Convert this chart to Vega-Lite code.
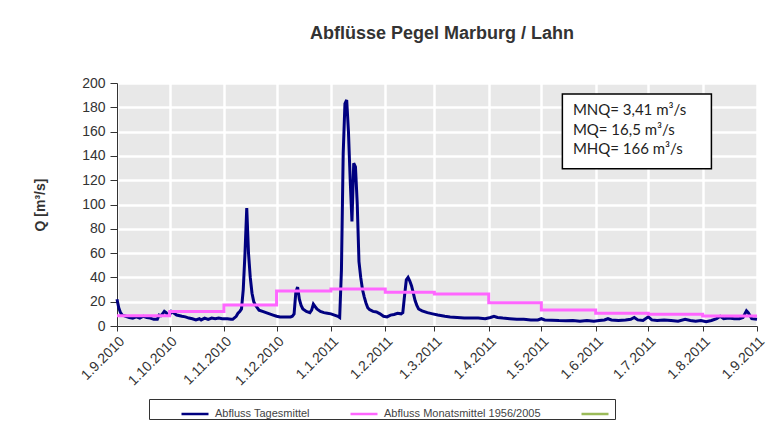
{
  "$schema": "https://vega.github.io/schema/vega-lite/v6.json",
  "autosize": "none",
  "width": 640,
  "height": 243,
  "padding": {"left": 117, "top": 83, "right": 25, "bottom": 117},
  "background": "white",
  "title": {"text": "Abflüsse Pegel Marburg / Lahn", "fontSize": 18, "fontWeight": "bold", "font": "Liberation Sans", "color": "#333333", "anchor": "middle", "offset": 33, "dx": 5},
  "config": {
    "view": {"fill": "#e8e8e8", "stroke": null},
    "axis": {"labelFont": "Liberation Sans", "titleFont": "Liberation Sans", "labelColor": "#333333", "titleColor": "#333333", "domainColor": "#333333", "tickColor": "#333333", "gridColor": "#ffffff", "gridWidth": 2.5, "gridOpacity": 1}
  },
  "datasets": {
    "daily": [
      {"date": "2010-09-01", "Q": 22}, {"date": "2010-09-02", "Q": 15}, {"date": "2010-09-03", "Q": 11}, {"date": "2010-09-04", "Q": 9},
      {"date": "2010-09-06", "Q": 8}, {"date": "2010-09-08", "Q": 7}, {"date": "2010-09-10", "Q": 6.5}, {"date": "2010-09-12", "Q": 7.5},
      {"date": "2010-09-14", "Q": 6.5}, {"date": "2010-09-16", "Q": 8}, {"date": "2010-09-18", "Q": 7}, {"date": "2010-09-20", "Q": 6.5},
      {"date": "2010-09-22", "Q": 5.5}, {"date": "2010-09-24", "Q": 5.5}, {"date": "2010-09-25", "Q": 9}, {"date": "2010-09-26", "Q": 8.5},
      {"date": "2010-09-27", "Q": 10}, {"date": "2010-09-28", "Q": 12}, {"date": "2010-09-29", "Q": 11}, {"date": "2010-09-30", "Q": 9},
      {"date": "2010-10-01", "Q": 9}, {"date": "2010-10-02", "Q": 12}, {"date": "2010-10-03", "Q": 11}, {"date": "2010-10-05", "Q": 9},
      {"date": "2010-10-08", "Q": 8}, {"date": "2010-10-10", "Q": 7.5}, {"date": "2010-10-12", "Q": 6.5}, {"date": "2010-10-14", "Q": 6},
      {"date": "2010-10-16", "Q": 5}, {"date": "2010-10-18", "Q": 6}, {"date": "2010-10-19", "Q": 5}, {"date": "2010-10-21", "Q": 6.5},
      {"date": "2010-10-23", "Q": 5.5}, {"date": "2010-10-25", "Q": 6.5}, {"date": "2010-10-27", "Q": 6}, {"date": "2010-10-29", "Q": 6.5},
      {"date": "2010-10-31", "Q": 6}, {"date": "2010-11-03", "Q": 6}, {"date": "2010-11-05", "Q": 5.5}, {"date": "2010-11-06", "Q": 5.5},
      {"date": "2010-11-08", "Q": 8}, {"date": "2010-11-09", "Q": 10.5}, {"date": "2010-11-10", "Q": 12}, {"date": "2010-11-11", "Q": 14},
      {"date": "2010-11-12", "Q": 30}, {"date": "2010-11-13", "Q": 60}, {"date": "2010-11-14", "Q": 97}, {"date": "2010-11-15", "Q": 60},
      {"date": "2010-11-16", "Q": 40}, {"date": "2010-11-17", "Q": 27}, {"date": "2010-11-18", "Q": 20}, {"date": "2010-11-19", "Q": 17},
      {"date": "2010-11-21", "Q": 13}, {"date": "2010-11-23", "Q": 12}, {"date": "2010-11-25", "Q": 11}, {"date": "2010-11-27", "Q": 10},
      {"date": "2010-11-29", "Q": 9}, {"date": "2010-12-01", "Q": 8}, {"date": "2010-12-03", "Q": 7.5}, {"date": "2010-12-06", "Q": 7.5},
      {"date": "2010-12-09", "Q": 7.5}, {"date": "2010-12-10", "Q": 8}, {"date": "2010-12-11", "Q": 10}, {"date": "2010-12-12", "Q": 28},
      {"date": "2010-12-13", "Q": 32}, {"date": "2010-12-14", "Q": 22}, {"date": "2010-12-15", "Q": 17}, {"date": "2010-12-16", "Q": 14},
      {"date": "2010-12-18", "Q": 12}, {"date": "2010-12-20", "Q": 11}, {"date": "2010-12-21", "Q": 13}, {"date": "2010-12-22", "Q": 18},
      {"date": "2010-12-23", "Q": 16}, {"date": "2010-12-24", "Q": 14}, {"date": "2010-12-26", "Q": 12}, {"date": "2010-12-28", "Q": 11},
      {"date": "2010-12-30", "Q": 10.5}, {"date": "2011-01-01", "Q": 10}, {"date": "2011-01-03", "Q": 9}, {"date": "2011-01-05", "Q": 8},
      {"date": "2011-01-06", "Q": 7}, {"date": "2011-01-07", "Q": 46}, {"date": "2011-01-08", "Q": 142}, {"date": "2011-01-09", "Q": 183},
      {"date": "2011-01-10", "Q": 186}, {"date": "2011-01-11", "Q": 160}, {"date": "2011-01-12", "Q": 120}, {"date": "2011-01-13", "Q": 86},
      {"date": "2011-01-14", "Q": 134}, {"date": "2011-01-15", "Q": 131}, {"date": "2011-01-16", "Q": 101}, {"date": "2011-01-17", "Q": 53},
      {"date": "2011-01-18", "Q": 40}, {"date": "2011-01-19", "Q": 30}, {"date": "2011-01-20", "Q": 24}, {"date": "2011-01-21", "Q": 19},
      {"date": "2011-01-22", "Q": 15}, {"date": "2011-01-23", "Q": 13.5}, {"date": "2011-01-25", "Q": 12}, {"date": "2011-01-27", "Q": 11.5},
      {"date": "2011-01-29", "Q": 10}, {"date": "2011-01-31", "Q": 8}, {"date": "2011-02-02", "Q": 7.5}, {"date": "2011-02-04", "Q": 9},
      {"date": "2011-02-06", "Q": 9.5}, {"date": "2011-02-08", "Q": 10.5}, {"date": "2011-02-10", "Q": 10}, {"date": "2011-02-11", "Q": 11},
      {"date": "2011-02-12", "Q": 25}, {"date": "2011-02-13", "Q": 38}, {"date": "2011-02-14", "Q": 40}, {"date": "2011-02-15", "Q": 37},
      {"date": "2011-02-16", "Q": 33}, {"date": "2011-02-17", "Q": 27}, {"date": "2011-02-18", "Q": 21}, {"date": "2011-02-19", "Q": 17},
      {"date": "2011-02-20", "Q": 14}, {"date": "2011-02-22", "Q": 12.5}, {"date": "2011-02-25", "Q": 11}, {"date": "2011-02-28", "Q": 10},
      {"date": "2011-03-03", "Q": 9}, {"date": "2011-03-07", "Q": 8}, {"date": "2011-03-10", "Q": 7.5}, {"date": "2011-03-14", "Q": 7},
      {"date": "2011-03-18", "Q": 6.5}, {"date": "2011-03-22", "Q": 6.5}, {"date": "2011-03-26", "Q": 6.5}, {"date": "2011-03-30", "Q": 6},
      {"date": "2011-04-02", "Q": 7}, {"date": "2011-04-04", "Q": 8}, {"date": "2011-04-06", "Q": 7}, {"date": "2011-04-09", "Q": 6.5},
      {"date": "2011-04-13", "Q": 6}, {"date": "2011-04-17", "Q": 5.5}, {"date": "2011-04-21", "Q": 5.5}, {"date": "2011-04-25", "Q": 5},
      {"date": "2011-04-29", "Q": 5}, {"date": "2011-05-01", "Q": 6}, {"date": "2011-05-03", "Q": 5}, {"date": "2011-05-07", "Q": 4.8},
      {"date": "2011-05-11", "Q": 4.5}, {"date": "2011-05-15", "Q": 4.4}, {"date": "2011-05-19", "Q": 4.5}, {"date": "2011-05-23", "Q": 4},
      {"date": "2011-05-27", "Q": 4.5}, {"date": "2011-05-31", "Q": 4}, {"date": "2011-06-03", "Q": 4.5}, {"date": "2011-06-06", "Q": 5},
      {"date": "2011-06-08", "Q": 6}, {"date": "2011-06-10", "Q": 5}, {"date": "2011-06-14", "Q": 4.5}, {"date": "2011-06-18", "Q": 5},
      {"date": "2011-06-21", "Q": 5.5}, {"date": "2011-06-23", "Q": 7}, {"date": "2011-06-25", "Q": 5}, {"date": "2011-06-28", "Q": 4.5},
      {"date": "2011-07-01", "Q": 7.5}, {"date": "2011-07-03", "Q": 5}, {"date": "2011-07-06", "Q": 4.5}, {"date": "2011-07-10", "Q": 5},
      {"date": "2011-07-14", "Q": 4.5}, {"date": "2011-07-18", "Q": 4}, {"date": "2011-07-22", "Q": 5.5}, {"date": "2011-07-25", "Q": 4.5},
      {"date": "2011-07-28", "Q": 4}, {"date": "2011-07-31", "Q": 4.5}, {"date": "2011-08-03", "Q": 3.6}, {"date": "2011-08-06", "Q": 4.5},
      {"date": "2011-08-09", "Q": 6}, {"date": "2011-08-11", "Q": 8}, {"date": "2011-08-13", "Q": 6}, {"date": "2011-08-16", "Q": 6.5},
      {"date": "2011-08-19", "Q": 6}, {"date": "2011-08-22", "Q": 6}, {"date": "2011-08-24", "Q": 7}, {"date": "2011-08-26", "Q": 12.5},
      {"date": "2011-08-27", "Q": 11}, {"date": "2011-08-29", "Q": 6}, {"date": "2011-09-01", "Q": 5.5}
    ],
    "monthly": [
      {"date": "2010-09-01", "Q": 8.5}, {"date": "2010-10-01", "Q": 12}, {"date": "2010-11-01", "Q": 17.3}, {"date": "2010-12-01", "Q": 28.8},
      {"date": "2011-01-01", "Q": 30.5}, {"date": "2011-02-01", "Q": 27.7}, {"date": "2011-03-01", "Q": 26.4}, {"date": "2011-04-01", "Q": 19.2},
      {"date": "2011-05-01", "Q": 13.2}, {"date": "2011-06-01", "Q": 10.5}, {"date": "2011-07-01", "Q": 9.6}, {"date": "2011-08-01", "Q": 8.2},
      {"date": "2011-09-01", "Q": 8.2}
    ],
    "box": [
      {"date": "2011-05-13", "date2": "2011-08-06", "Q": 191, "Q2": 129.5}
    ],
    "notes": [
      {"date": "2011-05-19", "Q": 177.5, "label": "MNQ= 3,41 m³/s"},
      {"date": "2011-05-19", "Q": 161.5, "label": "MQ= 16,5 m³/s"},
      {"date": "2011-05-19", "Q": 146, "label": "MHQ= 166 m³/s"}
    ]
  },
  "encoding": {
    "x": {
      "field": "date", "type": "temporal",
      "scale": {"type": "utc", "domain": [{"year": 2010, "month": 9, "date": 1, "utc": true}, {"year": 2011, "month": 9, "date": 1, "utc": true}]},
      "axis": {"title": null, "format": "%-d.%-m.%Y", "tickCount": {"interval": "month", "step": 1}, "labelAngle": -45, "labelAlign": "right", "labelBaseline": "top", "labelFontSize": 14, "labelPadding": 3, "tickSize": 5, "labelOverlap": false, "labelBound": false, "labelFlush": false, "grid": true}
    },
    "y": {
      "field": "Q", "type": "quantitative",
      "scale": {"domain": [0, 200], "nice": false},
      "axis": {"title": "Q [m³/s]", "values": [0, 20, 40, 60, 80, 100, 120, 140, 160, 180, 200], "labelOverlap": false, "labelBound": false, "labelFlush": false, "labelFontSize": 14, "labelPadding": 5, "tickSize": 7, "titleFontSize": 14, "titleFontWeight": "bold", "titleAngle": 270, "titleX": -70, "titleY": 121.5, "titleAlign": "center", "titleBaseline": "bottom", "grid": true}
    }
  },
  "layer": [
    {
      "data": {"name": "daily"},
      "mark": {"type": "line", "strokeWidth": 3, "interpolate": "linear"},
      "encoding": {
        "color": {
          "datum": "Abfluss Tagesmittel", "type": "nominal",
          "scale": {"domain": ["Abfluss Tagesmittel", "Abfluss Monatsmittel 1956/2005", "\u2003\u2003"], "range": ["#000080", "#ff66ff", "#9bbb59"]},
          "legend": {"orient": "none", "legendX": 32, "legendY": 316, "direction": "horizontal", "title": " ", "titleOrient": "left", "titlePadding": 31, "padding": 0, "strokeColor": "#333333", "fillColor": "#ffffff", "symbolType": "stroke", "symbolSize": 729, "symbolStrokeWidth": 2.5, "labelFontSize": 11, "labelFont": "Liberation Sans", "labelColor": "#444444", "labelOffset": 5, "columnPadding": 35, "labelLimit": 300}
        }
      }
    },
    {
      "data": {"name": "monthly"},
      "mark": {"type": "line", "strokeWidth": 3, "interpolate": "step-after"},
      "encoding": {
        "color": {"datum": "Abfluss Monatsmittel 1956/2005", "type": "nominal"}
      }
    },
    {
      "data": {"name": "box"},
      "mark": {"type": "rect", "fill": "#ffffff", "stroke": "#000000", "strokeWidth": 1.5},
      "encoding": {
        "x2": {"field": "date2"},
        "y2": {"field": "Q2"}
      }
    },
    {
      "data": {"name": "notes"},
      "mark": {"type": "text", "align": "left", "baseline": "middle", "font": "Lato", "fontSize": 15, "color": "#222222"},
      "encoding": {
        "text": {"field": "label"}
      }
    }
  ]
}
